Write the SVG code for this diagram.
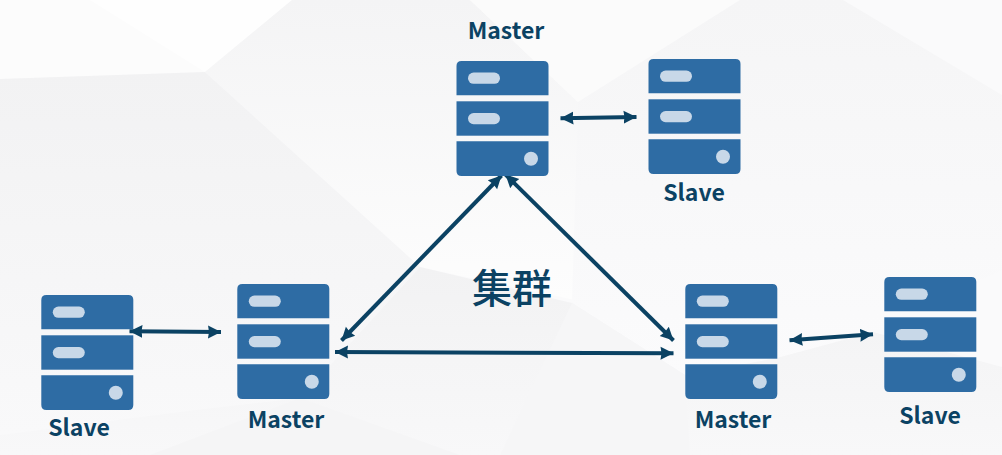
<svg xmlns="http://www.w3.org/2000/svg" width="1002" height="455" viewBox="0 0 1002 455">
<style>
.sv{fill:#2e6ca4}
.pl{fill:#c8d8e8}
.lb{font-family:"Noto Sans CJK SC","Noto Sans",sans-serif;font-weight:700;font-size:23px;fill:#0b4263;text-anchor:middle}
.cn{font-family:"Noto Sans CJK SC","Noto Sans",sans-serif;font-weight:500;font-size:40px;fill:#0b4263;text-anchor:middle}
.ar{fill:none;stroke:#0b4263;stroke-width:4;marker-start:url(#h);marker-end:url(#h)}
</style>
<defs>
<linearGradient id="g1" x1="0" y1="0" x2="0" y2="1"><stop offset="0" stop-color="#f2f2f3"/><stop offset="1" stop-color="#f9f9fa"/></linearGradient>
<linearGradient id="g2" x1="0" y1="0" x2="0" y2="1"><stop offset="0" stop-color="#f4f4f5"/><stop offset="1" stop-color="#fdfdfd"/></linearGradient>
<linearGradient id="g3" x1="0" y1="0" x2="0" y2="1"><stop offset="0" stop-color="#f5f5f6"/><stop offset="1" stop-color="#fbfbfc"/></linearGradient>
<linearGradient id="g4" x1="0" y1="0" x2="0" y2="1"><stop offset="0" stop-color="#f2f2f3"/><stop offset="1" stop-color="#f8f8f9"/></linearGradient>
<marker id="h" markerUnits="userSpaceOnUse" markerWidth="18" markerHeight="18" refX="13" refY="8" orient="auto-start-reverse"><path d="M0 1.5L13 8L0 14.5L1 8Z" fill="#0b4263"/></marker>
<g id="srv">
<path class="sv" d="M0 34.3V5Q0 0 5 0H87Q92 0 92 5V34.3Z"/>
<rect class="sv" y="40.3" width="92" height="34.4"/>
<path class="sv" d="M0 80.3H92V110Q92 115 87 115H5Q0 115 0 110Z"/>
<rect class="pl" x="11.5" y="11.6" width="32" height="11.2" rx="5.6"/>
<rect class="pl" x="11.5" y="52" width="32" height="11.2" rx="5.6"/>
<circle class="pl" cx="74.5" cy="97.7" r="7"/>
</g>
</defs>
<g id="background">
<rect width="1002" height="455" fill="#fafafb"/>
<path d="M0 0H292L205 72L0 79Z" fill="#fcfcfc"/>
<path d="M90 0H292L205 72Z" fill="#fefefe"/>
<path d="M292 0H470L578 102L575 300L420 267L205 72Z" fill="url(#g2)"/>
<path d="M470 0H740L578 102Z" fill="#fbfbfb"/>
<path d="M0 79L205 72L420 267L300 398L195 410L0 435Z" fill="url(#g1)"/>
<path d="M578 102L740 0H843L1002 95V270L873 332L777 358L685 375L572 303Z" fill="url(#g3)"/>
<path d="M0 435L195 410L300 398L420 267L572 303L685 375L777 358L873 332L1002 367V455H0Z" fill="url(#g4)"/>
<path d="M500 455L572 303L685 375L690 455Z" fill="#f6f6f7"/>
<path d="M300 398L460 455H150Z" fill="#f5f5f6"/>
</g>
<g id="connectors">
<line class="ar" x1="560.5" y1="118.3" x2="636.5" y2="117"/>
<line class="ar" x1="129.5" y1="331.3" x2="221" y2="332"/>
<line class="ar" x1="789.5" y1="340.3" x2="873" y2="334.3"/>
<line class="ar" x1="335" y1="352" x2="673.5" y2="353.3"/>
<line class="ar" x1="501.5" y1="175.5" x2="341.5" y2="340.5"/>
<line class="ar" x1="505.5" y1="174.5" x2="673.5" y2="340.5"/>
</g>
<g id="master-top"><use href="#srv" x="456.5" y="61"/><text class="lb" x="506" y="39">Master</text></g>
<g id="slave-top"><use href="#srv" x="648.5" y="59"/><text class="lb" x="694" y="201">Slave</text></g>
<g id="slave-left"><use href="#srv" x="41.3" y="295"/><text class="lb" x="79" y="436">Slave</text></g>
<g id="master-left"><use href="#srv" x="237.3" y="284"/><text class="lb" x="286" y="428">Master</text></g>
<g id="master-right"><use href="#srv" x="685.3" y="284"/><text class="lb" x="733" y="428">Master</text></g>
<g id="slave-right"><use href="#srv" x="884.3" y="277"/><text class="lb" x="930" y="424">Slave</text></g>
<g id="cluster-label"><text class="cn" x="512" y="303">集群</text></g>
</svg>
